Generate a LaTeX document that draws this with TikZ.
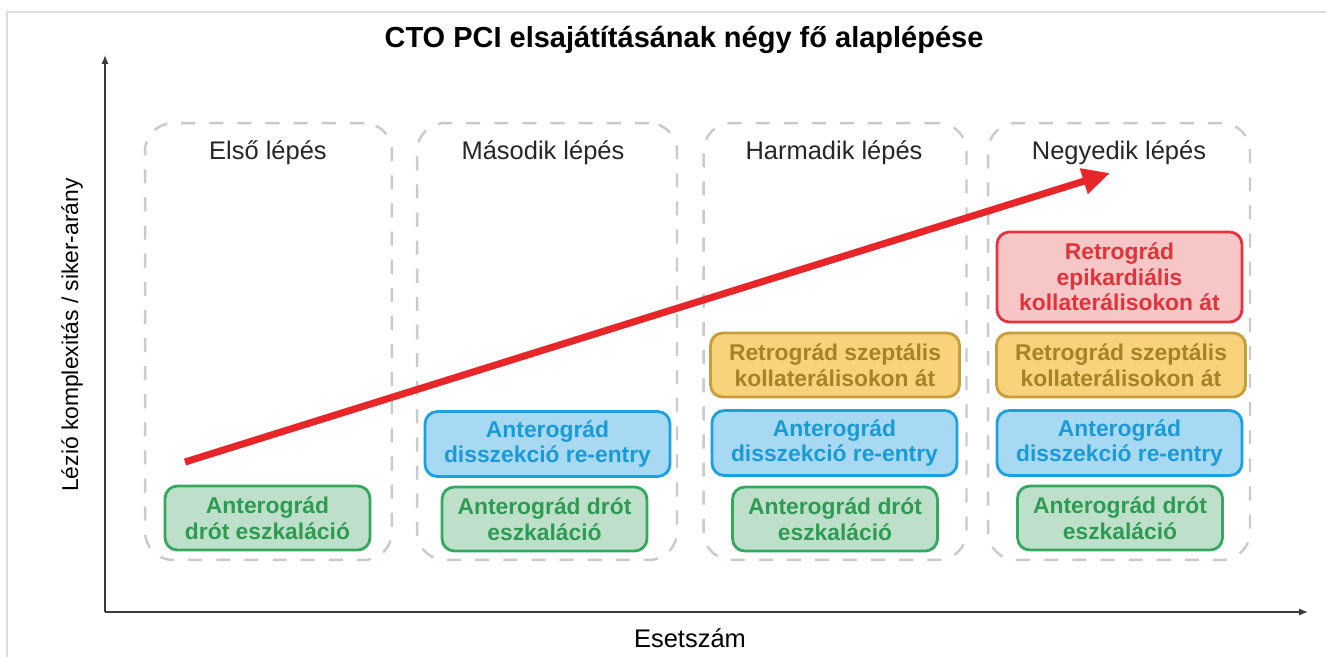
\documentclass[tikz,border=0pt]{standalone}
\usepackage{fontspec}
\setmainfont{Liberation Sans}
\usetikzlibrary{arrows.meta,positioning}
\definecolor{framegray}{HTML}{DEDEDE}
\definecolor{phasegray}{HTML}{CACACA}
\definecolor{axisgray}{HTML}{3A3A3A}
\definecolor{trendred}{HTML}{E8262A}
\definecolor{grnline}{HTML}{35A860}
\definecolor{grnfill}{HTML}{BEE0CA}
\definecolor{grntext}{HTML}{2E9B52}
\definecolor{bluline}{HTML}{1BA1E2}
\definecolor{blufill}{HTML}{A8D9F2}
\definecolor{blutext}{HTML}{1A9AD6}
\definecolor{ylwline}{HTML}{C79E3A}
\definecolor{ylwfill}{HTML}{F9D27C}
\definecolor{ylwtext}{HTML}{A58327}
\definecolor{redline}{HTML}{E5343E}
\definecolor{redfill}{HTML}{F7C6C6}
\definecolor{redtext}{HTML}{E1333A}
\tikzset{
  phase/.style={draw=phasegray, line width=1.4pt, dash pattern=on 8pt off 8pt,
    rounded corners=16pt, minimum height=8.74cm, inner sep=0pt},
  phasetitle/.style={font=\fontsize{14.5}{17}\selectfont, text=black!85},
  axis/.style={draw=axisgray, line width=0.8pt, -{Latex[length=5pt,width=4pt]}},
  basebox/.style={rounded corners=7pt, line width=1.6pt, align=center, inner sep=0pt,
    font=\fontsize{13}{14.5}\selectfont\bfseries},
  wirebox/.style={basebox, draw=grnline, fill=grnfill, text=grntext,
    minimum width=4.1cm, minimum height=1.28cm},
  dissbox/.style={basebox, draw=bluline, fill=blufill, text=blutext,
    minimum width=4.9cm, minimum height=1.3cm},
  septbox/.style={basebox, draw=ylwline, fill=ylwfill, text=ylwtext,
    minimum width=4.98cm, minimum height=1.28cm},
  epibox/.style={basebox, draw=redline, fill=redfill, text=redtext,
    minimum width=4.9cm, minimum height=1.8cm}
}
\begin{document}
\begin{tikzpicture}[x=0.02cm,y=-0.02cm]
  \useasboundingbox (0,0) rectangle (1326,657);
  \draw [framegray,line width=0.8pt] (7,657) -- (7,12) -- (1326,12);
  \node [font=\fontsize{16.5}{19}\selectfont\bfseries] (title) at (684,40)
    {CTO PCI elsajátításának négy fő alaplépése};
  % axes
  \coordinate (origin) at (105,612);
  \coordinate (ytop) at (105,55);
  \coordinate (xend) at (1308,612);
  \draw [axis] (origin) -- (ytop);
  \draw [axis] (origin) -- (xend);
  \node [rotate=90,font=\fontsize{13}{15}\selectfont] (ylabel) at (72,335)
    {Lézió komplexitás / siker-arány};
  \node [font=\fontsize{14.5}{17}\selectfont] (xlabel) at (690,638) {Esetszám};
  % phases
  \node [phase,minimum width=4.94cm] (phaseA) at (268.5,341.5) {};
  \node [phase,minimum width=5.2cm] (phaseB) at (547,341.5) {};
  \node [phase,minimum width=5.26cm] (phaseC) at (835,341.5) {};
  \node [phase,minimum width=5.24cm] (phaseD) at (1119,341.5) {};
  \node [phasetitle] (titleA) at (268,153) {Első lépés};
  \node [phasetitle] (titleB) at (543,153) {Második lépés};
  \node [phasetitle] (titleC) at (834,153) {Harmadik lépés};
  \node [phasetitle] (titleD) at (1119,153) {Negyedik lépés};
  % techniques
  \node [wirebox] (wireA) at (267.5,518) {Anterográd\\drót eszkaláció};
  \node [wirebox] (wireB) at (544.5,519) {Anterográd drót\\eszkaláció};
  \node [dissbox] (dissB) at (547.5,444) {Anterográd\\disszekció re-entry};
  \node [wirebox] (wireC) at (835,519) {Anterográd drót\\eszkaláció};
  \node [dissbox] (dissC) at (834.5,443) {Anterográd\\disszekció re-entry};
  \node [septbox] (septC) at (835,365) {Retrográd szeptális\\kollaterálisokon át};
  \node [wirebox] (wireD) at (1120,518) {Anterográd drót\\eszkaláció};
  \node [dissbox] (dissD) at (1119.5,443) {Anterográd\\disszekció re-entry};
  \node [septbox] (septD) at (1121,365) {Retrográd szeptális\\kollaterálisokon át};
  \node [epibox] (epiD) at (1119.5,277) {Retrográd\\epikardiális\\kollaterálisokon át};
  % trend
  \coordinate (trendstart) at (185,462);
  \coordinate (trendend) at (1110,173);
  \draw [trendred,line width=4pt,-{Triangle[length=0.55cm,width=0.5cm]}]
    (trendstart) -- (trendend);
\end{tikzpicture}
\end{document}
